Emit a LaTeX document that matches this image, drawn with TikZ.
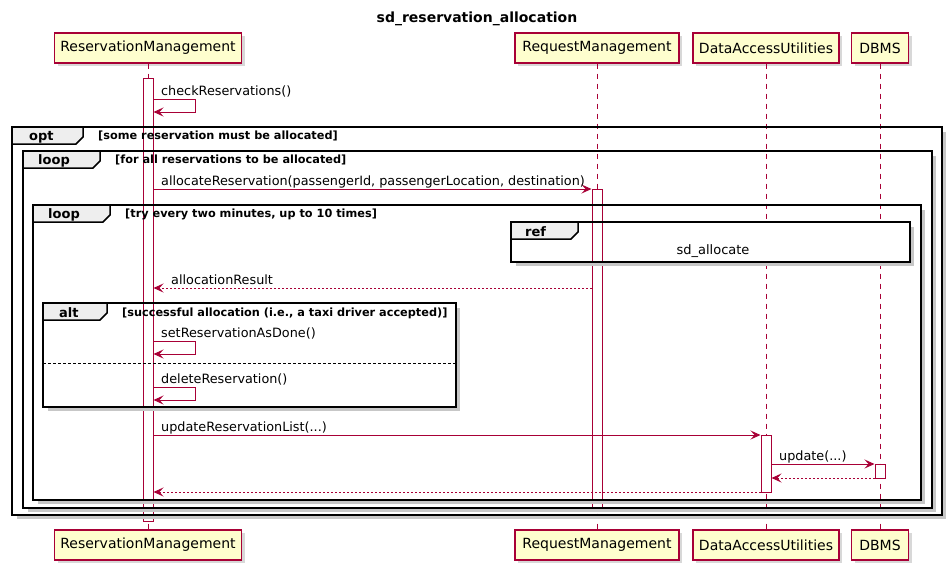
\documentclass[tikz,border=0pt]{standalone}
\usepackage{fontspec}
\setmainfont{DejaVu Sans}
\usetikzlibrary{arrows.meta,shadows}
\definecolor{pborder}{HTML}{A80036}
\definecolor{pfill}{HTML}{FEFECE}
\definecolor{tabfill}{HTML}{EEEEEE}
\newcommand{\sdframe}[6]{%
  \draw[shadowline] (#3+2.5,#2+5) -- (#3+2.5,#4+2.5) -- (#1+5,#4+2.5);
  \draw[frameline] (#1,#2) rectangle (#3,#4);
  \draw[frameline, fill=tabfill] (#1,#2) -- (#5,#2) -- (#5,#6-7) -- (#5-7,#6) -- (#1,#6) -- cycle;
}
\begin{document}
\begin{tikzpicture}[x=1pt,y=-1pt,
  part/.style={draw=pborder, fill=pfill, line width=1.2pt, minimum height=30pt, inner sep=0pt,
    font=\fontsize{14}{16}\selectfont,
    drop shadow={shadow xshift=3pt, shadow yshift=-3pt, fill=black!30, opacity=.5}},
  actbar/.style={draw=pborder, fill=white, line width=1pt, minimum width=10pt, inner sep=0pt},
  lifeline/.style={draw=pborder, line width=1pt, dash pattern=on 5pt off 5pt},
  msg/.style={draw=pborder, line width=1pt, -{Stealth[length=10pt,width=9pt,inset=4pt]}},
  ret/.style={msg, dash pattern=on 2pt off 2pt},
  msglabel/.style={anchor=base west, inner sep=0pt, font=\fontsize{12.8}{15}\selectfont},
  guard/.style={anchor=base west, inner sep=0pt, font=\bfseries\fontsize{11.3}{13}\selectfont},
  tablabel/.style={anchor=base west, inner sep=0pt, font=\bfseries\fontsize{13}{15}\selectfont},
  frameline/.style={draw=black, line width=1.5pt},
  shadowline/.style={draw=black!22, line width=3pt},
  altsep/.style={draw=black, line width=1pt, dash pattern=on 3pt off 2pt}
]
\useasboundingbox (0,0) rectangle (952,571);
% title
\node[anchor=base, inner sep=0pt, font=\bfseries\fontsize{14}{16}\selectfont] (title) at (477,22) {sd\_reservation\_allocation};
% participants
\node[part, minimum width=187pt] (rmT) at (148,48) {ReservationManagement};
\node[part, minimum width=164pt] (reqT) at (597,48) {RequestManagement};
\node[part, minimum width=146pt] (dauT) at (766,48) {DataAccessUtilities};
\node[part, minimum width=57pt] (dbT) at (880,48) {DBMS};
\node[part, minimum width=187pt] (rmB) at (148,545) {ReservationManagement};
\node[part, minimum width=164pt] (reqB) at (597,545) {RequestManagement};
\node[part, minimum width=146pt] (dauB) at (766,545) {DataAccessUtilities};
\node[part, minimum width=57pt] (dbB) at (880,545) {DBMS};
% lifelines
\draw[lifeline] (rmT.south) -- (rmB.north);
\draw[lifeline] (reqT.south) -- (reqB.north);
\draw[lifeline] (dauT.south) -- (dauB.north);
\draw[lifeline] (dbT.south) -- (dbB.north);
% ref box background
\fill[white] (511,222) rectangle (910,262);
% activation bars
\node[actbar, minimum height=443pt] (rmAct) at (148,299.5) {};
\node[actbar, minimum height=318pt] (reqAct) at (597,348) {};
\node[actbar, minimum height=57pt] (dauAct) at (766,463.5) {};
\node[actbar, minimum height=14pt] (dbAct) at (880,471) {};
% frames
\sdframe{12}{127}{942}{515}{83}{144}
\sdframe{23}{151}{932}{508}{100}{168}
\sdframe{33}{205}{921}{500}{110}{222}
\sdframe{511}{222}{910}{262}{578}{239}
\sdframe{43}{303}{456}{407}{107}{320}
\coordinate (sepL) at (43,363);
\coordinate (sepR) at (456,363);
\draw[altsep] (sepL) -- (sepR);
% message rows
\coordinate (r1a) at (0,99);  \coordinate (r1b) at (0,112);
\coordinate (r2) at (0,189);
\coordinate (r3) at (0,288);
\coordinate (r4a) at (0,341); \coordinate (r4b) at (0,354);
\coordinate (r5a) at (0,387); \coordinate (r5b) at (0,400);
\coordinate (r6) at (0,435);
\coordinate (r7) at (0,464);
\coordinate (r8) at (0,478);
\coordinate (r9) at (0,492);
% messages
\draw[msg] (rmAct.east |- r1a) -- ++(42,0) -- ++(0,13) -- (rmAct.east |- r1b);
\draw[msg] (rmAct.east |- r2) -- (reqAct.west |- r2);
\draw[ret] (reqAct.west |- r3) -- (rmAct.east |- r3);
\draw[msg] (rmAct.east |- r4a) -- ++(42,0) -- ++(0,13) -- (rmAct.east |- r4b);
\draw[msg] (rmAct.east |- r5a) -- ++(42,0) -- ++(0,13) -- (rmAct.east |- r5b);
\draw[msg] (rmAct.east |- r6) -- (dauAct.west |- r6);
\draw[msg] (dauAct.east |- r7) -- (dbAct.west |- r7);
\draw[ret] (dbAct.west |- r8) -- (dauAct.east |- r8);
\draw[ret] (dauAct.west |- r9) -- (rmAct.east |- r9);
% message labels
\node[msglabel] (l1) at (161,95) {checkReservations()};
\node[msglabel] (l2) at (161,185) {allocateReservation(passengerId, passengerLocation, destination)};
\node[msglabel] (l3) at (171,284) {allocationResult};
\node[msglabel] (l4) at (161,337) {setReservationAsDone()};
\node[msglabel] (l5) at (161,383) {deleteReservation()};
\node[msglabel] (l6) at (161,431) {updateReservationList(...)};
\node[msglabel] (l7) at (779,460) {update(...)};
% frame labels
\node[tablabel] (tOpt) at (29,140) {opt};
\node[guard] (gOpt) at (98,139) {[some reservation must be allocated]};
\node[tablabel] (tLoop1) at (38,164) {loop};
\node[guard] (gLoop1) at (115,163) {[for all reservations to be allocated]};
\node[tablabel] (tLoop2) at (48,218) {loop};
\node[guard] (gLoop2) at (125,217) {[try every two minutes, up to 10 times]};
\node[tablabel] (tRef) at (525,236) {ref};
\node[anchor=base, inner sep=0pt, font=\fontsize{13}{15}\selectfont] (refText) at (713,254) {sd\_allocate};
\node[tablabel] (tAlt) at (59,317) {alt};
\node[guard] (gAlt) at (122,316) {[successful allocation (i.e., a taxi driver accepted)]};
\end{tikzpicture}
\end{document}
